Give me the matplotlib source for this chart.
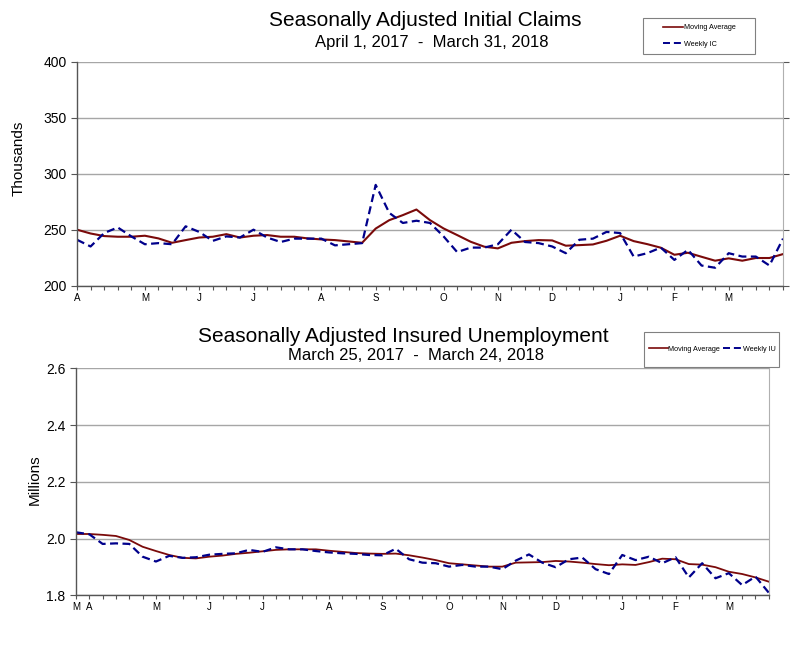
import matplotlib
matplotlib.use("Agg")
import matplotlib.pyplot as plt
from matplotlib.lines import Line2D
from matplotlib.patches import Rectangle
import numpy as np

plt.rcParams['font.family'] = ['Liberation Sans', 'DejaVu Sans']

# Initial claims, weeks April 1, 2017 - March 31, 2018 (thousands)
ic_weekly = [241, 235, 247, 252, 244, 237, 238, 237, 253, 248,
             240, 244, 243, 250, 243, 239, 242, 242, 242, 236,
             237, 238, 290, 265, 256, 258, 256, 244, 230, 234,
             234, 237, 250, 239, 238, 235, 229, 241, 242, 248,
             247, 226, 229, 234, 223, 232, 218, 216, 229, 226,
             226, 218, 242]
ic_ma = [250, 246.6, 244.3, 243.7, 243.7, 244.6, 242.2, 238.3, 240.7, 243,
         243.7, 246, 243, 244.6, 245.2, 243.7, 243.7, 242.2, 241.3, 240.7,
         239.5, 238.3, 251, 258.5, 263, 268, 258.5, 251.1, 245.2, 239.2,
         234.8, 233.3, 238.3, 239.8, 240.7, 240.4, 235.7, 236.2, 236.8, 240.1,
         244.6, 239.8, 237.1, 233.9, 227.6, 229.4, 225.8, 222.3, 224.4, 222.3,
         224.7, 224.7, 228.2]
ic_month_pos = [0, 5, 9, 13, 18, 22, 27, 31, 35, 40, 44, 48]
ic_month_lbl = ['A', 'M', 'J', 'J', 'A', 'S', 'O', 'N', 'D', 'J', 'F', 'M']

# Insured unemployment, weeks March 25, 2017 - March 24, 2018 (millions)
iu_weekly = [2.022, 2.015, 1.981, 1.983, 1.981, 1.936, 1.919, 1.939, 1.932, 1.934,
             1.943, 1.946, 1.948, 1.960, 1.953, 1.969, 1.962, 1.962, 1.956, 1.951,
             1.948, 1.946, 1.942, 1.941, 1.964, 1.927, 1.915, 1.913, 1.901, 1.907,
             1.901, 1.901, 1.892, 1.922, 1.944, 1.915, 1.899, 1.927, 1.933, 1.892,
             1.875, 1.942, 1.924, 1.936, 1.913, 1.934, 1.863, 1.913, 1.860, 1.878,
             1.836, 1.866, 1.809]
iu_ma = [2.016, 2.016, 2.013, 2.009, 1.995, 1.971, 1.956, 1.942, 1.932, 1.930,
         1.936, 1.940, 1.946, 1.950, 1.955, 1.960, 1.962, 1.962, 1.962, 1.957,
         1.953, 1.949, 1.947, 1.946, 1.947, 1.941, 1.933, 1.924, 1.913, 1.909,
         1.905, 1.901, 1.901, 1.915, 1.916, 1.917, 1.921, 1.919, 1.915, 1.910,
         1.906, 1.909, 1.907, 1.917, 1.929, 1.927, 1.910, 1.908, 1.899, 1.883,
         1.875, 1.863, 1.848]
iu_month_pos = [0, 1, 6, 10, 14, 19, 23, 28, 32, 36, 41, 45, 49]
iu_month_lbl = ['M', 'A', 'M', 'J', 'J', 'A', 'S', 'O', 'N', 'D', 'J', 'F', 'M']

MA_COLOR = '#7a0a0a'
WK_COLOR = '#00008b'
DASH = (0, (3.6, 2.0))
GRID = '#a6a6a6'

fig = plt.figure(figsize=(8, 6.67), dpi=100)
ax1 = fig.add_axes([0.09625, 0.5717, 0.8825, 0.3358])
ax2 = fig.add_axes([0.095, 0.1075, 0.866, 0.3404])


def style_axes(ax, n, month_pos, month_lbl):
    labels = [''] * n
    for p, l in zip(month_pos, month_lbl):
        labels[p] = l
    ax.set_xticks(np.arange(n))
    ax.set_xticklabels(labels, fontsize=7)
    ax.set_xlim(0, n - 1)
    ax.tick_params(axis='x', length=3, width=0.8, color='#555555', pad=2)
    ax.tick_params(axis='y', length=4, width=0.8, color='#555555', labelsize=10)
    ax.grid(axis='y', color=GRID, linewidth=1.0)
    ax.set_axisbelow(True)
    for s in ['left', 'bottom']:
        ax.spines[s].set_color('#555555')
        ax.spines[s].set_linewidth(1.0)
    ax.spines['right'].set_color('#b0b0b0')
    ax.spines['top'].set_visible(False)


# Top chart: initial claims
x1 = np.arange(len(ic_weekly))
ax1.plot(x1, ic_ma, color=MA_COLOR, linewidth=1.5)
ax1.plot(x1, ic_weekly, color=WK_COLOR, linewidth=1.6, linestyle=DASH)
style_axes(ax1, len(ic_weekly), ic_month_pos, ic_month_lbl)
ax1.set_ylim(200, 400)
ax1.set_yticks([200, 250, 300, 350, 400])
ax1.tick_params(axis='y', right=True)
ax1.set_ylabel('Thousands', fontsize=11)
ax1.yaxis.set_label_coords(-0.073, 0.57)

# Bottom chart: insured unemployment
x2 = np.arange(len(iu_weekly))
ax2.plot(x2, iu_ma, color=MA_COLOR, linewidth=1.3)
ax2.plot(x2, iu_weekly, color=WK_COLOR, linewidth=1.6, linestyle=DASH)
style_axes(ax2, len(iu_weekly), iu_month_pos, iu_month_lbl)
ax2.set_ylim(1.8, 2.6)
ax2.set_yticks([1.8, 2.0, 2.2, 2.4, 2.6])
ax2.set_yticklabels(['1.8', '2.0', '2.2', '2.4', '2.6'])
ax2.set_ylabel('Millions', fontsize=11)
ax2.yaxis.set_label_coords(-0.05, 0.51)

# Titles
fig.text(0.531, 1 - 20 / 667, 'Seasonally Adjusted Initial Claims',
         ha='center', va='center', fontsize=15)
fig.text(0.54, 1 - 42 / 667, 'April 1, 2017  -  March 31, 2018',
         ha='center', va='center', fontsize=12)
fig.text(0.504, 1 - 336 / 667, 'Seasonally Adjusted Insured Unemployment',
         ha='center', va='center', fontsize=15)
fig.text(0.52, 1 - 355 / 667, 'March 25, 2017  -  March 24, 2018',
         ha='center', va='center', fontsize=12)

# Legends
h_ma = Line2D([], [], color=MA_COLOR, linewidth=1.2)
h_ic = Line2D([], [], color=WK_COLOR, linewidth=1.4, linestyle=DASH)
fig.patches.append(Rectangle((643 / 800, 1 - 54 / 667), 112 / 800, 36 / 667,
                             transform=fig.transFigure, facecolor='white',
                             edgecolor='#808080', linewidth=0.8))
fig.legend([h_ma, h_ic], ['Moving Average', 'Weekly IC'], loc='center',
           bbox_to_anchor=(699 / 800, 1 - 36 / 667), frameon=False,
           fontsize=5.2, handlelength=2.8, handletextpad=0.1, labelspacing=1.3)

fig.patches.append(Rectangle((644 / 800, 1 - 367 / 667), 135 / 800, 35 / 667,
                             transform=fig.transFigure, facecolor='white',
                             edgecolor='#808080', linewidth=0.8, zorder=5))
fig.legend([h_ma, h_ic], ['Moving Average', 'Weekly IU'], loc='center',
           bbox_to_anchor=(712 / 800, 1 - 349 / 667), frameon=False, ncol=2,
           fontsize=5.2, handlelength=2.6, handletextpad=0.1, columnspacing=0.4)

fig.savefig('out.png', dpi=100, facecolor='white')
